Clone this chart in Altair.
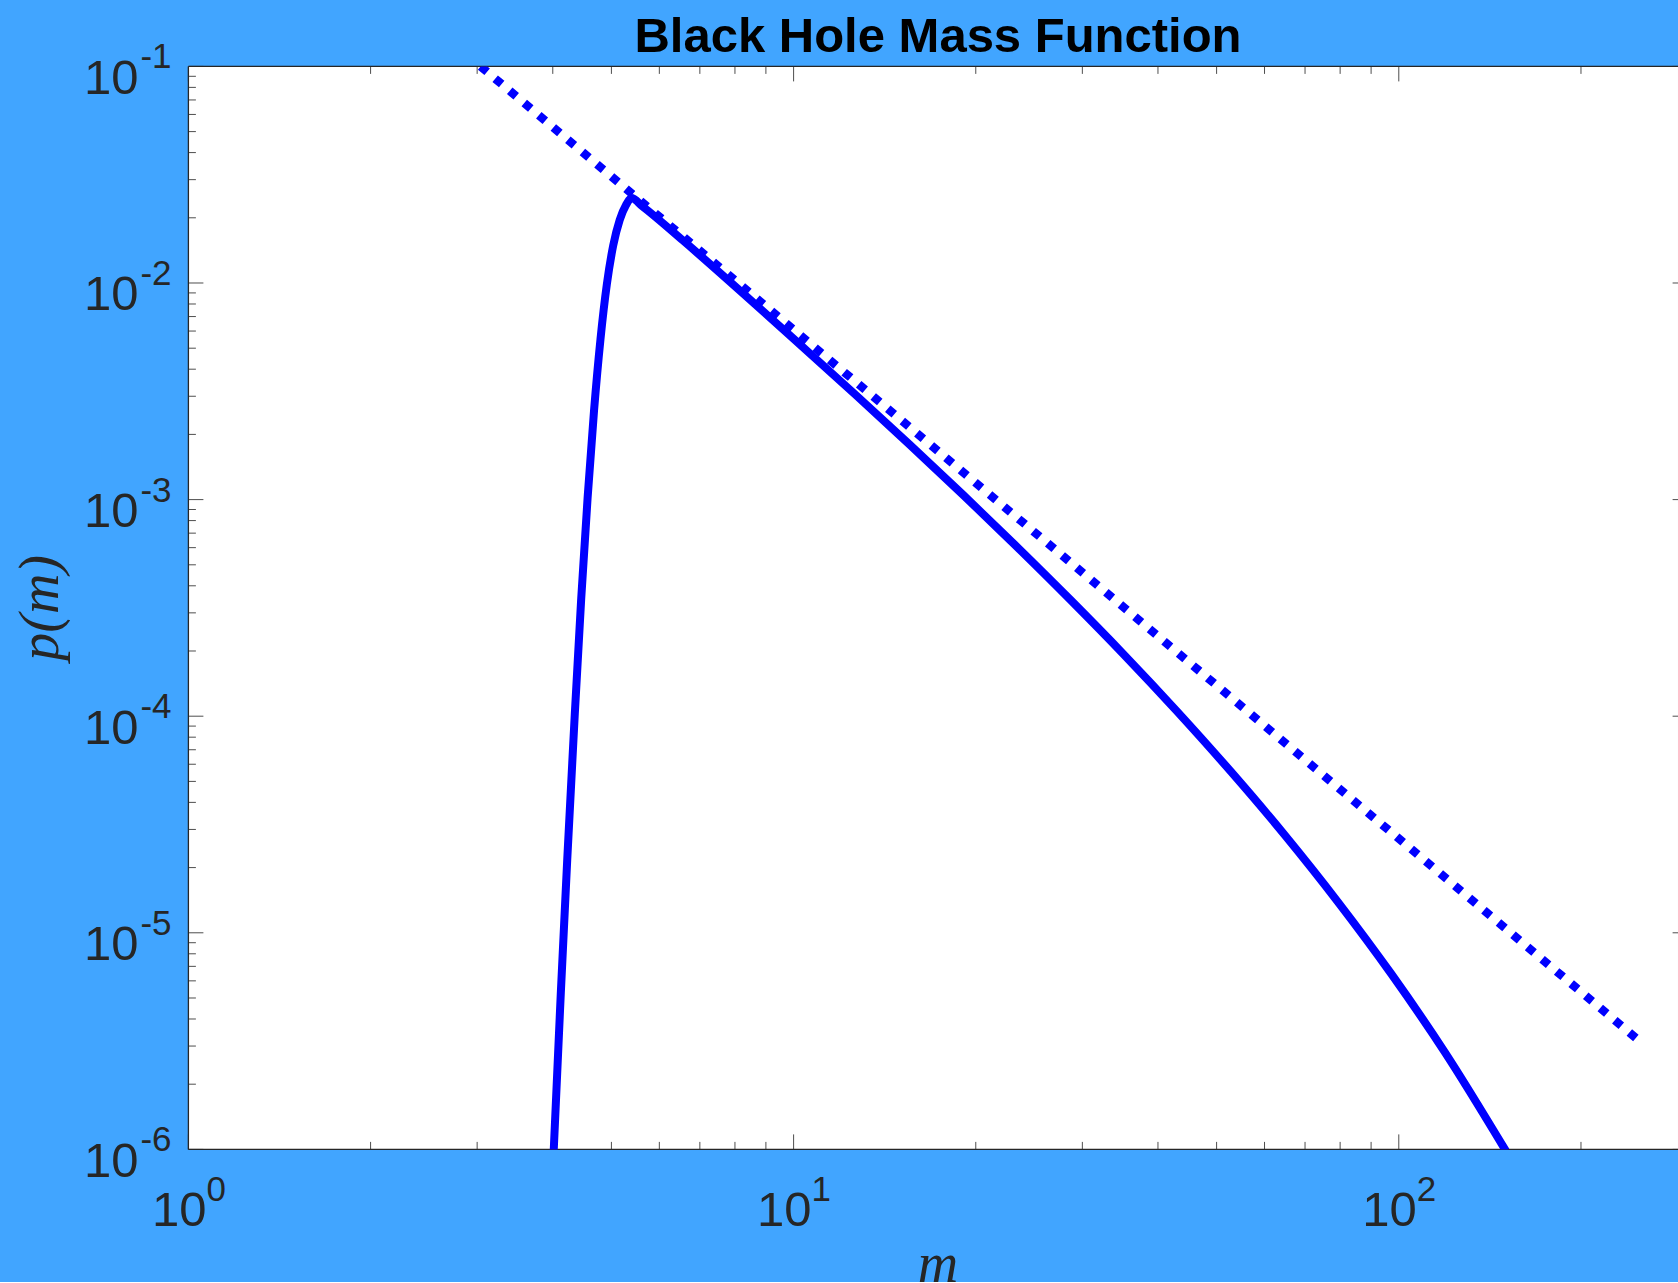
import altair as alt
import pandas as pd

# Black hole mass function p(m): values along the solid curve
mass = [4.009, 4.125, 4.227, 4.350, 4.457, 4.567, 4.680, 4.796, 4.914, 5.035,
        5.160, 5.288, 5.397,
        5.62, 6.56, 8.45, 10.0, 12.69, 15.56, 19.07, 23.37, 28.65, 35.12,
        43.05, 52.77, 64.69, 79.3, 97.2, 119.2, 150.3]
pdf = [9.08e-7, 5.33e-6, 2.198e-5, 1.028e-4, 3.483e-4, 1.019e-3, 2.576e-3, 5.495e-3, 9.863e-3, 1.493e-2,
       1.954e-2, 2.296e-2, 2.466e-2,
       2.265e-2, 1.574e-2, 8.433e-3, 5.534e-3, 3.027e-3, 1.791e-3, 1.050e-3, 6.067e-4, 3.451e-4, 1.928e-4,
       1.050e-4, 5.559e-5, 2.844e-5, 1.390e-5, 6.457e-6, 2.805e-6, 9.84e-7]

# Pure power-law reference (dotted)
power_mass = [3.04, 247.0]
power_pdf = [0.1, 3.25e-6]

# Tick positions and exponent labels
x_major = [1, 10, 100]
x_exp = ["0", "1", "2"]
x_minor = [2, 3, 4, 5, 6, 7, 8, 9, 20, 30, 40, 50, 60, 70, 80, 90, 200]
y_major = [1e-6, 1e-5, 1e-4, 1e-3, 1e-2, 1e-1]
y_exp = ["-6", "-5", "-4", "-3", "-2", "-1"]
y_minor = [k * 10.0 ** e for e in range(-6, -1) for k in range(2, 10)]

TITLE = "Black Hole Mass Function"
X_TITLE = "m"
Y_TITLE = "p(m)"

# Visible plot area; the axes box continues a few pixels past the right edge
W, H = 1489.6, 1083
EDGE = W + 9.6
X_MAX = 289.3

BG = "#41A5FF"
INK = "#262626"
TICK = "#4d4d4d"
BLUE = "#0000FF"
SANS = "Liberation Sans"
SERIF = "Liberation Serif"
MAJOR, MINOR = 15, 7.5

xs = alt.Scale(type="log", domain=[1, X_MAX], nice=False)
ys = alt.Scale(type="log", domain=[1e-6, 1e-1], nice=False)
X = alt.X("m:Q", scale=xs, axis=None)
Y = alt.Y("p:Q", scale=ys, axis=None)

curve_df = pd.DataFrame({"m": mass, "p": pdf})
power_df = pd.DataFrame({"m": power_mass, "p": power_pdf})

dotted = alt.Chart(power_df).mark_line(
    color=BLUE, strokeWidth=8.5, strokeDash=[8.5, 10.5], strokeCap="butt", clip=True
).encode(x=X, y=Y)

curve = alt.Chart(curve_df).mark_line(
    color=BLUE, strokeWidth=8, interpolate="monotone", clip=True
).encode(x=X, y=Y)


def x_ticks(vals, length):
    df = pd.DataFrame({"m": vals})
    base = alt.Chart(df).mark_rule(color=TICK, strokeWidth=1)
    bottom = base.encode(x=X, y=alt.value(H), y2=alt.value(H - length))
    top = base.encode(x=X, y=alt.value(0), y2=alt.value(length))
    return [bottom, top]


def y_ticks(vals, length):
    df = pd.DataFrame({"p": vals})
    base = alt.Chart(df).mark_rule(color=TICK, strokeWidth=1)
    left = base.encode(y=Y, x=alt.value(0), x2=alt.value(length))
    right = base.encode(y=Y, x=alt.value(EDGE), x2=alt.value(EDGE - length))
    return [left, right]


ticks = (x_ticks(x_major, MAJOR) + x_ticks(x_minor, MINOR)
         + y_ticks(y_major, MAJOR) + y_ticks(y_minor, MINOR))

# Axes box: left, top and bottom edges
box_df = pd.DataFrame({"side": ["box"]})
box_rule = alt.Chart(box_df).mark_rule(color=INK, strokeWidth=1.3)
box = [
    box_rule.encode(x=alt.value(0), y=alt.value(0), y2=alt.value(H)),
    box_rule.encode(x=alt.value(0), x2=alt.value(EDGE), y=alt.value(0)),
    box_rule.encode(x=alt.value(0), x2=alt.value(EDGE), y=alt.value(H)),
]

xlab_df = pd.DataFrame({"m": x_major, "e": x_exp})
ylab_df = pd.DataFrame({"p": y_major, "e": y_exp})

x_base = alt.Chart(xlab_df).mark_text(
    text="10", align="right", baseline="alphabetic", dx=18, dy=76.6,
    font=SANS, fontSize=49, color=INK
).encode(x=X, y=alt.value(H))
x_pow = alt.Chart(xlab_df).mark_text(
    align="left", baseline="alphabetic", dx=18, dy=51.6,
    font=SANS, fontSize=35, color=INK
).encode(x=X, y=alt.value(H), text="e:N")

y_base = alt.Chart(ylab_df).mark_text(
    text="10", align="right", baseline="alphabetic", dx=-50, dy=27.5,
    font=SANS, fontSize=49, color=INK
).encode(y=Y, x=alt.value(0))
y_pow = alt.Chart(ylab_df).mark_text(
    align="left", baseline="alphabetic", dx=-48, dy=2,
    font=SANS, fontSize=35, color=INK
).encode(y=Y, x=alt.value(0), text="e:N")

title = alt.Chart(pd.DataFrame({"t": [TITLE]})).mark_text(
    align="center", baseline="alphabetic", font=SANS, fontSize=49,
    fontWeight="bold", color="#000000"
).encode(x=alt.value(EDGE / 2), y=alt.value(-14.4), text="t:N")

x_title = alt.Chart(pd.DataFrame({"t": [X_TITLE]})).mark_text(
    align="center", baseline="alphabetic", font=SERIF, fontSize=56,
    fontStyle="italic", color=INK
).encode(x=alt.value(EDGE / 2), y=alt.value(H + 133), text="t:N")

y_title = alt.Chart(pd.DataFrame({"t": [Y_TITLE]})).mark_text(
    align="center", baseline="alphabetic", font=SERIF, fontSize=56,
    fontStyle="italic", color=INK, angle=270
).encode(x=alt.value(-130), y=alt.value(H / 2), text="t:N")

chart = alt.layer(
    *ticks, *box, dotted, curve, x_base, x_pow, y_base, y_pow, title, x_title, y_title
).properties(
    width=W,
    height=H,
    background=BG,
    padding={"left": 188.4, "top": 66.4, "right": 0, "bottom": 133},
    autosize=alt.AutoSizeParams(type="none"),
).configure_view(
    strokeWidth=0, fill="white"
)

chart.save("out.html", embed_options={"renderer": "svg", "actions": False})
